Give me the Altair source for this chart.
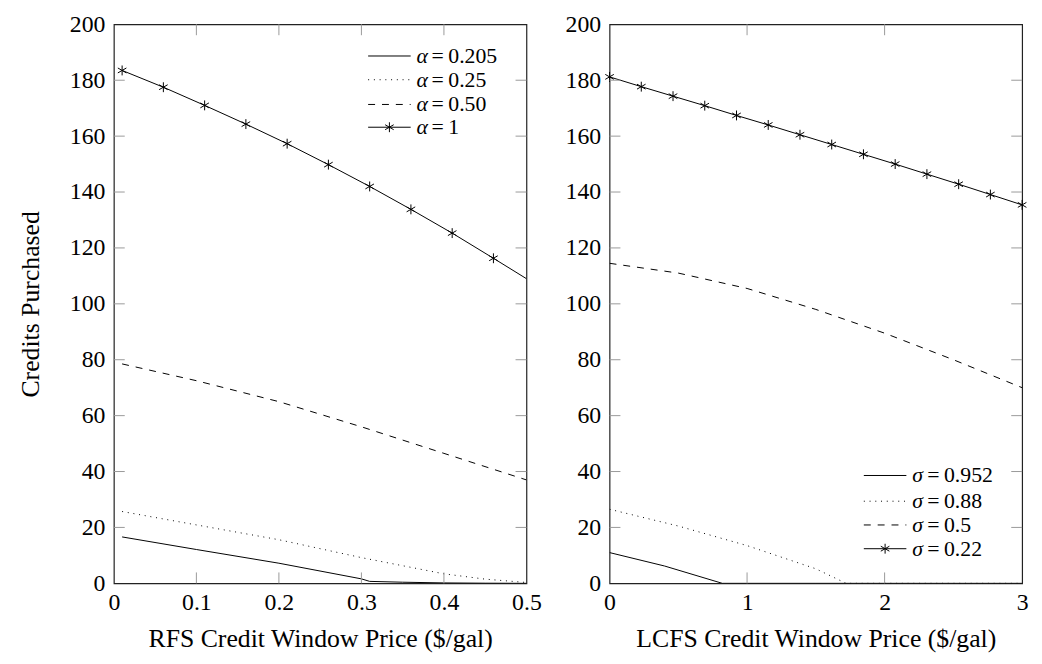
import altair as alt
import pandas as pd

FONT = "'Liberation Serif', 'DejaVu Serif', serif"
W, H = 417, 565

# ---------------- data: left panel (RFS) ----------------
a205_x = [0.01, 0.1, 0.2, 0.3, 0.31, 0.35, 0.4, 0.45, 0.5]
a205_y = [16.6, 12.1, 7.2, 1.6, 0.7, 0.4, 0.15, 0.05, 0.0]
a25_x = [0.01, 0.1, 0.2, 0.3, 0.4, 0.45, 0.5]
a25_y = [25.7, 20.9, 15.6, 9.2, 3.4, 1.5, 0.3]
a50_x = [0.01, 0.1, 0.2, 0.3, 0.4, 0.5]
a50_y = [78.5, 72.5, 65.0, 56.0, 46.5, 37.0]
a1_x = [0.01, 0.06, 0.11, 0.16, 0.21, 0.26, 0.31, 0.36, 0.41, 0.46, 0.5]
a1_y = [183.5, 177.5, 171.0, 164.3, 157.3, 149.8, 142.0, 133.8, 125.3, 116.3, 109.0]
a1_marked = [True] * 10 + [False]

# ---------------- data: right panel (LCFS) ----------------
s952_x = [0, 0.4, 0.82, 1.5, 2.0, 2.5, 3.0]
s952_y = [11.0, 6.2, 0.0, 0.0, 0.0, 0.0, 0.0]
s88_x = [0, 0.5, 1.0, 1.5, 1.72, 2.0, 2.5, 3.0]
s88_y = [26.5, 20.5, 13.5, 5.2, 0.0, 0.0, 0.0, 0.0]
s5_x = [0, 0.5, 1.0, 1.5, 2.0, 2.5, 3.0]
s5_y = [114.5, 111.0, 105.5, 98.0, 89.5, 80.0, 70.0]
s22_x = [0, 0.2308, 0.4615, 0.6923, 0.9231, 1.1538, 1.3846, 1.6154,
         1.8462, 2.0769, 2.3077, 2.5385, 2.7692, 3.0]
s22_y = [181.2, 177.7, 174.3, 170.9, 167.4, 164.0, 160.5, 157.0,
         153.5, 150.0, 146.4, 142.8, 139.1, 135.4]
s22_marked = [True] * 14

# ---------------- axes / legend text ----------------
left_xlabels = [0, 0.1, 0.2, 0.3, 0.4, 0.5]
left_xticks = [0.1, 0.2, 0.3, 0.4]
right_xlabels = [0, 1, 2, 3]
right_xticks = [1, 2]
ylabels = [0, 20, 40, 60, 80, 100, 120, 140, 160, 180, 200]
yticks = [20, 40, 60, 80, 100, 120, 140, 160, 180]

left_title = "RFS Credit Window Price ($/gal)"
right_title = "LCFS Credit Window Price ($/gal)"
y_title = "Credits Purchased"

left_sym = "α"
left_leg = ["0.205", "0.25", "0.50", "1"]
right_sym = "σ"
right_leg = ["0.952", "0.88", "0.5", "0.22"]

DOTTED = [1, 4.8]
DASHED = [7, 7]
STAR = "M0,-1L0,1M-0.866,-0.5L0.866,0.5M-0.866,0.5L0.866,-0.5"
one = pd.DataFrame({"a": [0]})


def xenc(dom, vals, title):
    return alt.X("x:Q", scale=alt.Scale(domain=dom, nice=False, zero=False),
                 axis=alt.Axis(values=vals, format="~g", title=title, labelFlush=False,
                               labelOverlap=False, labelPadding=7, titlePadding=12))


def yenc(title):
    if title:
        ax = alt.Axis(values=ylabels, title=title, labelFlush=False, labelOverlap=False,
                      labelPadding=9, titlePadding=26)
    else:
        ax = alt.Axis(values=ylabels, title=None, labelFlush=False, labelOverlap=False,
                      labelPadding=9)
    return alt.Y("y:Q", scale=alt.Scale(domain=[0, 200], nice=False, zero=True), axis=ax)


def line(xs, ys, dash, X, Y):
    df = pd.DataFrame({"x": xs, "y": ys})
    kw = dict(color="black", strokeWidth=1, clip=True)
    if dash:
        kw["strokeDash"] = dash
    return alt.Chart(df).mark_line(**kw).encode(x=X, y=Y)


def markers(xs, ys, flags, X, Y):
    df = pd.DataFrame({"x": xs, "y": ys, "m": flags})
    return alt.Chart(df).transform_filter("datum.m").mark_point(
        shape=STAR, size=100, filled=False, stroke="black", strokeWidth=1, opacity=1
    ).encode(x=X, y=Y)


def ticks(xt, X, Y):
    dx = pd.DataFrame({"x": xt})
    dy = pd.DataFrame({"y": yticks})
    c = "#9a9a9a"
    return [
        alt.Chart(dx).mark_rule(color=c, strokeWidth=1).encode(x=X, y=alt.value(H), y2=alt.value(H - 11)),
        alt.Chart(dx).mark_rule(color=c, strokeWidth=1).encode(x=X, y=alt.value(0), y2=alt.value(11)),
        alt.Chart(dy).mark_rule(color=c, strokeWidth=1).encode(y=Y, x=alt.value(0), x2=alt.value(11)),
        alt.Chart(dy).mark_rule(color=c, strokeWidth=1).encode(y=Y, x=alt.value(W), x2=alt.value(W - 11)),
    ]


def legend(sym, labels, rows):
    styles = [None, DOTTED, DASHED, None]
    out = []
    for i, (lab, ry) in enumerate(zip(labels, rows)):
        kw = dict(color="black", strokeWidth=1)
        if styles[i]:
            kw["strokeDash"] = styles[i]
        out.append(alt.Chart(one).mark_rule(**kw).encode(
            x=alt.value(257), x2=alt.value(300), y=alt.value(ry)))
        if i == 3:
            out.append(alt.Chart(one).mark_point(
                shape=STAR, size=100, filled=False, stroke="black", strokeWidth=1, opacity=1
            ).encode(x=alt.value(278.5), y=alt.value(ry)))
        out.append(alt.Chart(one).mark_text(
            text=sym, font=FONT, fontStyle="italic", fontSize=22, align="left",
            baseline="middle", color="black").encode(x=alt.value(306), y=alt.value(ry)))
        out.append(alt.Chart(one).mark_text(
            text="=", font=FONT, fontSize=22, align="left",
            baseline="middle", color="black").encode(x=alt.value(321), y=alt.value(ry)))
        out.append(alt.Chart(one).mark_text(
            text=lab, font=FONT, fontSize=22, align="left",
            baseline="middle", color="black").encode(x=alt.value(338), y=alt.value(ry)))
    return out


XL = xenc([0, 0.5], left_xlabels, left_title)
YL = yenc(y_title)
left = alt.layer(
    line(a205_x, a205_y, None, XL, YL),
    line(a25_x, a25_y, DOTTED, XL, YL),
    line(a50_x, a50_y, DASHED, XL, YL),
    line(a1_x, a1_y, None, XL, YL),
    markers(a1_x, a1_y, a1_marked, XL, YL),
    *ticks(left_xticks, XL, YL),
    *legend(left_sym, left_leg, [32, 56, 81, 104]),
).properties(width=W, height=H)

XR = xenc([0, 3], right_xlabels, right_title)
YR = yenc(None)
right = alt.layer(
    line(s952_x, s952_y, None, XR, YR),
    line(s88_x, s88_y, DOTTED, XR, YR),
    line(s5_x, s5_y, DASHED, XR, YR),
    line(s22_x, s22_y, None, XR, YR),
    markers(s22_x, s22_y, s22_marked, XR, YR),
    *ticks(right_xticks, XR, YR),
    *legend(right_sym, right_leg, [456, 482, 506, 530]),
).properties(width=W, height=H)

chart = alt.hconcat(left, right, spacing=22).properties(
    padding={"left": 9, "top": 0, "right": 5, "bottom": 5}
).configure_view(stroke="#222222", strokeWidth=1.2).configure_axis(
    labelFont=FONT, titleFont=FONT, labelFontSize=24, titleFontSize=26,
    labelColor="black", titleColor="black", titleFontWeight="normal",
    grid=False, domain=False, ticks=False,
)

chart.save("out.html", embed_options={"renderer": "svg", "actions": False})
